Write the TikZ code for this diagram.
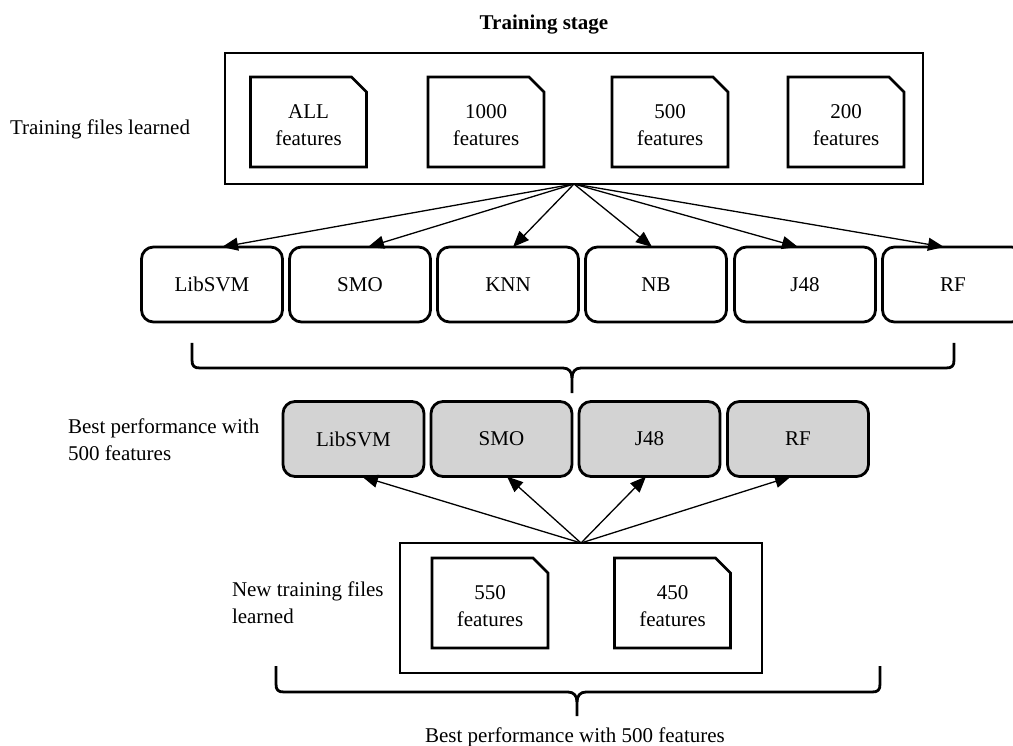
\documentclass[tikz,border=0pt]{standalone}
\usepackage{fontspec}
\setmainfont{Liberation Serif}
\usetikzlibrary{arrows.meta,calc}
\definecolor{boxgray}{RGB}{211,211,211}
\begin{document}
\begin{tikzpicture}[x=1pt,y=-1pt,
  every node/.style={font=\fontsize{21}{27}\selectfont, inner sep=0pt, outer sep=0pt},
  frame/.style={draw, line width=2.8pt, rectangle},
  docnode/.style={minimum width=116pt, minimum height=90pt, align=center},
  docline/.style={line width=2.8pt, line join=miter},
  clf/.style={draw, line width=2.8pt, rounded corners=12pt, minimum width=141pt, minimum height=75pt},
  best/.style={clf, fill=boxgray},
  arr/.style={line width=1.3pt, -{Triangle[length=16pt,width=13pt]}},
  bracepath/.style={line width=2.8pt, line cap=butt, line join=round},
  lbl/.style={anchor=west, align=left}
]
\useasboundingbox (0,0) rectangle (1013,746);

% title
\node[font=\fontsize{21}{27}\selectfont\bfseries] (title) at (544,25) {Training stage};

% top frame
\node[frame, minimum width=698pt, minimum height=131pt] (top) at (574,118.5) {};
\node[lbl] (toplbl) at (10,129) {Training files learned};

% documents in top frame
\foreach \n/\x/\t in {dA/308.5/ALL, dB/486/1000, dC/670/500, dD/846/200}{
  \node[docnode] (\n) at (\x,122) {};
  \node[align=center] (\n t) at (\x,125) {\t\\features};
  \draw[docline] (\n.south west) -- (\n.north west) -- ([xshift=-15pt]\n.north east)
     -- ([yshift=-15pt]\n.north east) -- (\n.south east) -- cycle;
}

% classifiers
\node[clf] (c1) at (212,284.5) {LibSVM};
\node[clf] (c2) at (360,284.5) {SMO};
\node[clf] (c3) at (508,284.5) {KNN};
\node[clf] (c4) at (656,284.5) {NB};
\node[clf] (c5) at (805,284.5) {J48};
\node[clf] (c6) at (953,284.5) {RF};

\draw[arr] (top.south) -- ([xshift=10pt]c1.north);
\draw[arr] (top.south) -- ([xshift=8pt]c2.north);
\draw[arr] (top.south) -- ([xshift=5pt]c3.north);
\draw[arr] (top.south) -- ([xshift=-4pt]c4.north);
\draw[arr] (top.south) -- ([xshift=-7pt]c5.north);
\draw[arr] (top.south) -- ([xshift=-9pt]c6.north);

% brace 1
\draw[bracepath] (192,343) -- (192,360) .. controls (192,366) and (194,368) .. (200,368) -- (563,368)
   .. controls (569,368) and (572,372) .. (572,378) -- (572,393);
\draw[bracepath] (954,343) -- (954,360) .. controls (954,366) and (952,368) .. (946,368) -- (581,368)
   .. controls (575,368) and (572,372) .. (572,378);

% best performance classifiers
\node[lbl] (bestlbl) at (68,440) {Best performance with\\500 features};
\node[best] (g1) at (353.5,439) {LibSVM};
\node[best] (g2) at (501.5,439) {SMO};
\node[best] (g3) at (649.5,439) {J48};
\node[best] (g4) at (798,439) {RF};

% bottom frame
\node[frame, minimum width=362pt, minimum height=130pt] (bot) at (581,608) {};
\node[lbl] (botlbl) at (232,603) {New training files\\learned};
\foreach \n/\x/\t in {dE/490/550, dF/672.5/450}{
  \node[docnode] (\n) at (\x,603) {};
  \node[align=center] (\n t) at (\x,606) {\t\\features};
  \draw[docline] (\n.south west) -- (\n.north west) -- ([xshift=-15pt]\n.north east)
     -- ([yshift=-15pt]\n.north east) -- (\n.south east) -- cycle;
}

\draw[arr] (bot.north) -- ([xshift=8.5pt]g1.south);
\draw[arr] (bot.north) -- ([xshift=5.5pt]g2.south);
\draw[arr] (bot.north) -- ([xshift=-3.5pt]g3.south);
\draw[arr] (bot.north) -- ([xshift=-7pt]g4.south);

% brace 2
\draw[bracepath] (276,666) -- (276,684) .. controls (276,690) and (278,692) .. (284,692) -- (568,692)
   .. controls (574,692) and (577,696) .. (577,702) -- (577,716);
\draw[bracepath] (880,666) -- (880,684) .. controls (880,690) and (878,692) .. (872,692) -- (586,692)
   .. controls (580,692) and (577,696) .. (577,702);

\node (bottxt) at (575,737) {Best performance with 500 features};
\end{tikzpicture}
\end{document}
